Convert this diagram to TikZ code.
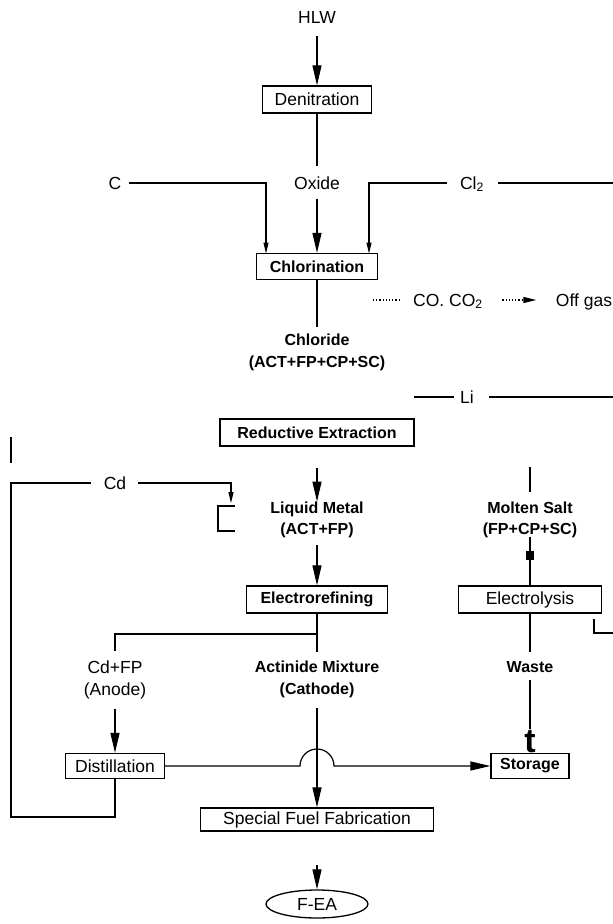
\documentclass[tikz,border=0pt]{standalone}
\usepackage{fontspec}
\setmainfont{Liberation Sans}
\usetikzlibrary{arrows.meta,shapes.geometric}
\newcommand\fr{\fontsize{17.5}{20}\selectfont}
\newcommand\fb{\fontsize{16}{19}\selectfont\bfseries}
\begin{document}
\begin{tikzpicture}[x=1pt,y=-1pt,line width=1.2pt,
  lab/.style={inner sep=0pt,text height=12.5pt,text depth=0pt,font=\fr},
  labb/.style={inner sep=0pt,text height=11.5pt,text depth=0pt,font=\fb},
  box/.style={draw,line width=1.3pt,inner sep=0pt,font=\fr},
  boxb/.style={box,font=\fb},
  arr/.style={-{Triangle[length=20pt,width=9pt]}},
  sarr/.style={-{Triangle[length=11pt,width=5pt]}},
  dotl/.style={dotted,line width=1.2pt}]
\useasboundingbox (0,0) rectangle (613,924);

% nodes
\node[lab] (hlw) at (317,17) {HLW};
\node[box,minimum width=109pt,minimum height=27pt] (den) at (317,99.5) {Denitration};
\node[lab] (oxide) at (317,183) {Oxide};
\node[lab] (c) at (115,183) {C};
\node[lab] (cl) at (472,183) {Cl\textsubscript{2}};
\node[boxb,minimum width=121pt,minimum height=26pt] (chl) at (317,266.5) {Chlorination};
\node[lab] (co) at (448,300) {CO. CO\textsubscript{2}};
\node[lab] (off) at (584,300) {Off gas};
\node[labb] (chd1) at (317,340) {Chloride};
\node[labb] (chd2) at (317,362) {(ACT+FP+CP+SC)};
\node[lab] (li) at (467,397) {Li};
\node[boxb,minimum width=194pt,minimum height=27pt] (red) at (317,432.5) {Reductive Extraction};
\node[lab] (cd) at (115,483) {Cd};
\node[labb] (lm1) at (317,508) {Liquid Metal};
\node[labb] (lm2) at (317,529) {(ACT+FP)};
\node[labb] (ms1) at (530,508) {Molten Salt};
\node[labb] (ms2) at (530,529) {(FP+CP+SC)};
\node[boxb,minimum width=141pt,minimum height=27pt] (ref) at (317,599.5) {Electrorefining};
\node[box,minimum width=143pt,minimum height=27pt] (ely) at (530,599.5) {Electrolysis};
\node[lab] (cf1) at (115,667) {Cd+FP};
\node[lab] (cf2) at (115,689) {(Anode)};
\node[labb] (am1) at (317,667) {Actinide Mixture};
\node[labb] (am2) at (317,689) {(Cathode)};
\node[labb] (was) at (530,667) {Waste};
\node[box,minimum width=99pt,minimum height=25pt] (dis) at (115,766) {Distillation};
\node[boxb,minimum width=78pt,minimum height=25pt] (sto) at (530,766) {Storage};
\node[font=\fontsize{34}{34}\selectfont\bfseries,inner sep=0pt,anchor=base] (t) at (530,752) {t};
\node[box,minimum width=233pt,minimum height=23pt] (sff) at (317,819.5) {Special Fuel Fabrication};
\node[box,ellipse,minimum width=102pt,minimum height=28pt] (fea) at (317,904) {F-EA};
\node[fill,inner sep=0pt,minimum width=8pt,minimum height=9pt] (sq) at (530,555) {};

% coordinates
\coordinate (cin) at (266,253.5);
\coordinate (clin) at (369,253.5);
\coordinate (cle) at (613,183);
\coordinate (dt1) at (373,300);
\coordinate (li1) at (414,397);
\coordinate (li2) at (613,397);
\coordinate (ms0) at (530,467);
\coordinate (l1) at (115,817);
\coordinate (l2) at (11,817);
\coordinate (l3) at (11,483);
\coordinate (cdin) at (231,503);
\coordinate (b1) at (235,506);
\coordinate (b2) at (218,506);
\coordinate (b3) at (218,531);
\coordinate (b4) at (235,531);
\coordinate (m1) at (11,437);
\coordinate (m2) at (11,463);
\coordinate (br) at (317,634);
\coordinate (h1) at (300,766);
\coordinate (fa) at (317,865);
\coordinate (e1) at (594,619);
\coordinate (e2) at (594,633);
\coordinate (e3) at (613,633);

% connectors
\draw[arr,shorten <=12pt] (hlw) -- (den);
\draw[shorten >=10pt] (den) -- (oxide);
\draw[arr,shorten <=9pt] (oxide) -- (chl);
\draw[sarr,shorten <=7pt] (c.east) -| (cin);
\draw[sarr,shorten <=12pt] (cl.west) -| (clin);
\draw[shorten >=13pt] (cle) -- (cl.east);
\draw[shorten >=7pt] (chl) -- (chd1);
\draw[dotl,shorten >=14pt] (dt1) -- (co.west);
\draw[dotl,-{Triangle[length=13pt,width=6pt]},shorten <=19pt,shorten >=19pt] (co.east) -- (off.west);
\draw[shorten >=6pt] (li1) -- (li.west);
\draw[line width=1.5pt,shorten <=15pt] (li.east) -- (li2);
\draw[arr,shorten <=21pt] (red) -- (lm1);
\draw[arr,shorten <=10pt] (lm2) -- (ref);
\draw[shorten >=10pt] (ms0) -- (ms1);
\draw[shorten <=2pt] (ms2) -- (ely);
\draw[shorten >=12pt] (dis.south) -- (l1) -- (l2) -- (l3) -- (cd.west);
\draw[sarr,shorten <=11pt] (cd.east) -| (cdin);
\draw (b1) -- (b2) -- (b3) -- (b4);
\draw (m1) -- (m2);
\draw[shorten >=9pt] (ref) -- (am1);
\draw[shorten >=9pt] (br) -| (cf1);
\draw[arr,shorten <=13pt] (cf2) -- (dis);
\draw[arr,shorten <=13pt] (am2) -- (sff);
\draw[shorten >=9pt] (ely) -- (was);
\draw[shorten <=7pt] (was) -- (t.north);
\draw[arr] (dis.east) -- (h1) arc[start angle=180,end angle=360,radius=17] -- (sto.west);
\draw[arr] (fa) -- (fea);
\draw (e1) -- (e2) -- (e3);
\end{tikzpicture}
\end{document}
